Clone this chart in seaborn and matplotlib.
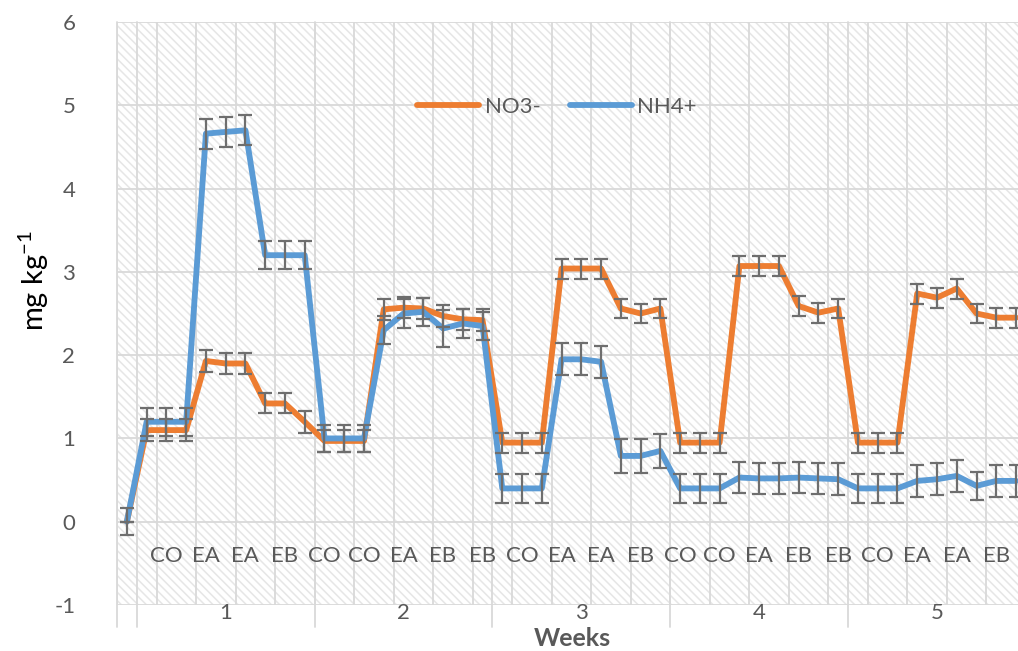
import numpy as np
import pandas as pd
import matplotlib
matplotlib.use("Agg")
import matplotlib.pyplot as plt
import matplotlib.transforms as mtransforms
from matplotlib.patches import Rectangle
import seaborn as sns

# ---------------- data ----------------
treatments = ['', 'CO', 'CO', 'CO', 'EA', 'EA', 'EA', 'EB', 'EB', 'EB',
              'CO', 'CO', 'CO', 'EA', 'EA', 'EA', 'EB', 'EB', 'EB',
              'CO', 'CO', 'CO', 'EA', 'EA', 'EA', 'EB', 'EB', 'EB',
              'CO', 'CO', 'CO', 'EA', 'EA', 'EA', 'EB', 'EB', 'EB',
              'CO', 'CO', 'CO', 'EA', 'EA', 'EA', 'EB', 'EB', 'EB']
weeks = ['1', '2', '3', '4', '5']

no3 = [0.0,
       1.10, 1.10, 1.10, 1.93, 1.90, 1.90, 1.42, 1.42, 1.20,
       0.97, 0.97, 0.97, 2.55, 2.57, 2.56, 2.47, 2.43, 2.42,
       0.95, 0.95, 0.95, 3.04, 3.04, 3.04, 2.56, 2.50, 2.56,
       0.95, 0.95, 0.95, 3.07, 3.07, 3.07, 2.59, 2.51, 2.56,
       0.95, 0.95, 0.95, 2.74, 2.69, 2.80, 2.50, 2.45, 2.45]
nh4 = [0.0,
       1.20, 1.20, 1.20, 4.66, 4.68, 4.70, 3.20, 3.20, 3.20,
       1.00, 1.00, 1.00, 2.30, 2.50, 2.52, 2.32, 2.38, 2.35,
       0.40, 0.40, 0.40, 1.95, 1.95, 1.92, 0.79, 0.79, 0.85,
       0.40, 0.40, 0.40, 0.53, 0.52, 0.52, 0.53, 0.52, 0.51,
       0.40, 0.40, 0.40, 0.49, 0.51, 0.55, 0.43, 0.49, 0.49]
no3_err = [0.0,
           0.13, 0.13, 0.13, 0.13, 0.13, 0.13, 0.12, 0.12, 0.13,
           0.13, 0.13, 0.13, 0.13, 0.13, 0.13, 0.13, 0.13, 0.13,
           0.12, 0.12, 0.12, 0.12, 0.12, 0.12, 0.12, 0.12, 0.12,
           0.12, 0.12, 0.12, 0.12, 0.12, 0.12, 0.12, 0.12, 0.12,
           0.12, 0.12, 0.12, 0.12, 0.12, 0.12, 0.12, 0.12, 0.12]
nh4_err = [0.16,
           0.17, 0.17, 0.17, 0.18, 0.18, 0.18, 0.17, 0.17, 0.17,
           0.16, 0.16, 0.16, 0.17, 0.17, 0.17, 0.22, 0.17, 0.17,
           0.17, 0.17, 0.17, 0.19, 0.19, 0.19, 0.20, 0.20, 0.20,
           0.17, 0.17, 0.17, 0.19, 0.19, 0.19, 0.19, 0.19, 0.19,
           0.17, 0.17, 0.17, 0.19, 0.19, 0.19, 0.17, 0.19, 0.19]

series_names = ['NO3-', 'NH4+']
colors = ['#ED7D31', '#5B9BD5']

# ---------------- style ----------------
sns.set_style("white")
plt.rcParams['font.family'] = ['Lato', 'DejaVu Sans']
plt.rcParams['axes.unicode_minus'] = False
plt.rcParams['mathtext.fontset'] = 'custom'
plt.rcParams['mathtext.rm'] = 'Lato'
plt.rcParams['mathtext.it'] = 'Lato'
plt.rcParams['hatch.linewidth'] = 1.1
TXT = '#595959'
GRID = '#D9D9D9'

fig = plt.figure(figsize=(10.18, 6.51), dpi=100)
ax = fig.add_axes([117/1018, 1 - 605/651, 1 - 117/1018, (605 - 22)/651])

n = len(no3)
idx = np.arange(n)
df = pd.DataFrame({
    'idx': np.concatenate([idx, idx]),
    'value': np.concatenate([no3, nh4]),
    'series': [series_names[0]] * n + [series_names[1]] * n,
})

# hatched background
ax.add_patch(Rectangle((0, 0), 1, 1, transform=ax.transAxes, facecolor='white',
                       edgecolor='#E6E6E6', hatch='\\\\\\\\', linewidth=0, zorder=0))

# gridlines
for yv in range(-1, 7):
    ax.axhline(yv, color=GRID, lw=1.3, zorder=1)
for xv in np.arange(-0.5, n + 1, 2):
    ax.axvline(xv, color=GRID, lw=1.3, zorder=1)

sns.lineplot(data=df, x='idx', y='value', hue='series', palette=colors,
             linewidth=4.2, ax=ax, sort=False, zorder=3)

ax.errorbar(idx, no3, yerr=no3_err, fmt='none', ecolor='#6E6E6E',
            elinewidth=1.6, capsize=5, capthick=1.6, zorder=4)
ax.errorbar(idx, nh4, yerr=nh4_err, fmt='none', ecolor='#6E6E6E',
            elinewidth=1.6, capsize=5, capthick=1.6, zorder=4)

ax.set_xlim(-0.5, 45.1)
ax.set_ylim(-1, 6)
ax.set_yticks(range(-1, 7))
ax.set_xticks([])
ax.tick_params(axis='y', length=0, pad=30, labelsize=16, labelcolor=TXT)
for s in ax.spines.values():
    s.set_visible(False)
ax.set_xlabel('')
ax.set_ylabel(r'mg kg$^{\mathrm{-1}}$', fontsize=21, color='black')
ax.yaxis.set_label_coords(-0.073, 0.557)

# treatment labels (every other category, as shown)
for i in range(0, n, 2):
    if treatments[i]:
        ax.text(i, -0.41, treatments[i], ha='center', va='center',
                fontsize=16, color=TXT, zorder=5)

# week labels and separators below the plot
trans = mtransforms.blended_transform_factory(ax.transData, ax.transAxes)
bounds = [-0.5, 0.5, 9.5, 18.5, 27.5, 36.5]
for b in bounds:
    ax.plot([b, b], [1.0, -0.038], transform=trans, color=GRID, lw=1.3,
            clip_on=False, zorder=1)
for k, w in enumerate(weeks):
    xc = 5.0 + 9 * k
    ax.text(xc, -0.013, w, transform=trans, ha='center', va='center',
            fontsize=16, color=TXT, clip_on=False)

fig.text(572/1018, 1 - 638/651, 'Weeks', ha='center', va='center',
         fontsize=18, fontweight='bold', color=TXT)

# legend
leg = ax.legend(loc='center', bbox_to_anchor=(557/1018, 1 - 107/651),
                bbox_transform=fig.transFigure, ncol=2, frameon=False,
                fontsize=16, handlelength=2.8, handletextpad=0.25,
                columnspacing=1.3, title=None)
for t in leg.get_texts():
    t.set_color(TXT)
for h in leg.get_lines():
    h.set_linewidth(4.2)

fig.savefig('out.png', dpi=100)
